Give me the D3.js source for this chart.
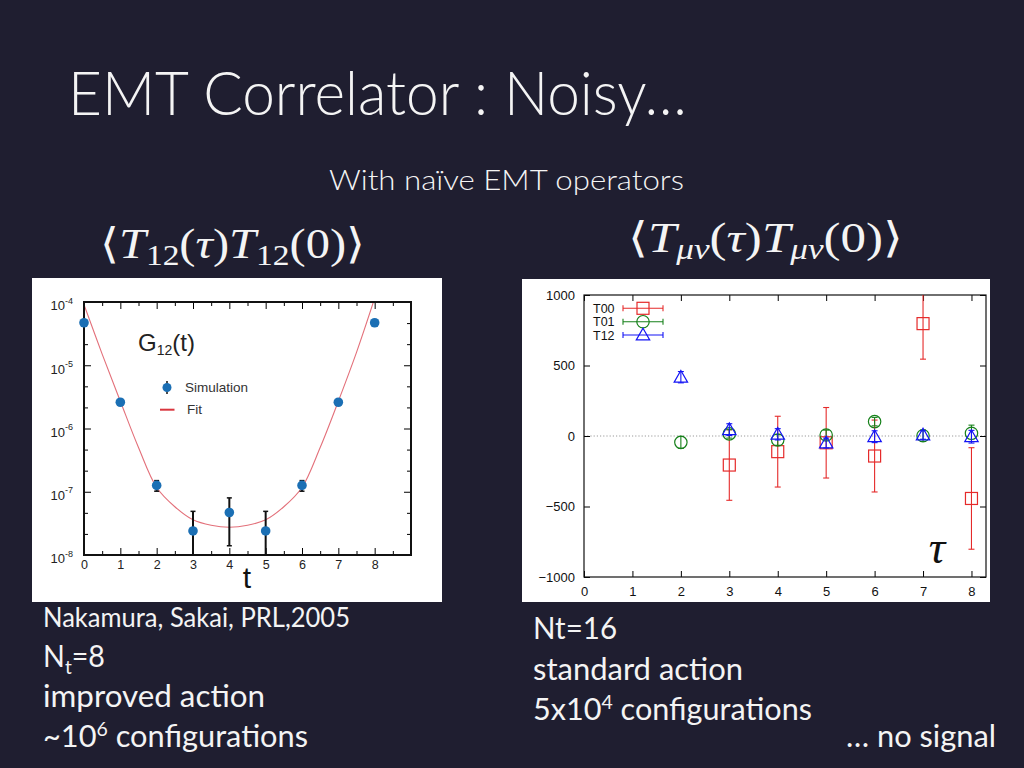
<!DOCTYPE html>
<html><head><meta charset="utf-8">
<script src="https://cdn.jsdelivr.net/npm/d3@7"></script>
<style>
body{margin:0;background:#1f1e30;}
svg{display:block}
</style></head><body>
<svg id="s" width="1024" height="768"></svg>
<script>
// ---------- data: left chart (Nakamura & Sakai G12(t)) ----------
const g12T   = [0, 1, 2, 3, 4, 5, 6, 7, 8];
const g12Val = [4.7e-5, 2.6e-6, 1.26e-7, 2.4e-8, 4.7e-8, 2.4e-8, 1.26e-7, 2.6e-6, 4.7e-5];
const g12Err = [0, 0, 2.4e-8, 2.5e-8, 3.3e-8, 2.5e-8, 2.4e-8, 0, 0];
const fitT   = [0, 0.5, 1, 1.5, 2, 2.5, 3, 3.5, 4, 4.5, 5, 5.5, 6, 6.5, 7, 7.5, 8];
const fitVal = [9.1e-5, 1.5e-5, 2.7e-6, 5.0e-7, 1.17e-7, 5.8e-8, 3.6e-8, 2.95e-8, 2.75e-8,
                2.95e-8, 3.6e-8, 5.8e-8, 1.17e-7, 5.0e-7, 2.7e-6, 1.6e-5, 1.15e-4];
const leftXTicks = [0, 1, 2, 3, 4, 5, 6, 7, 8];
const leftYExp   = [-8, -7, -6, -5, -4];

// ---------- data: right chart (T_mu nu correlators) ----------
const tauTicks   = [0, 1, 2, 3, 4, 5, 6, 7, 8];
const corrYTicks = [-1000, -500, 0, 500, 1000];
const t00Tau = [3, 4, 5, 6, 7, 8];
const t00Val = [-206, -111, -48, -142, 797, -443];
const t00Err = [250, 251, 250, 255, 252, 360];
const t01Tau = [2, 3, 4, 5, 6, 7, 8];
const t01Val = [-45, 15, -28, 7, 102, 2, 19];
const t01Err = [42, 30, 38, 35, 30, 40, 58];
const t12Tau = [2, 3, 4, 5, 6, 7, 8];
const t12Val = [417, 45, 12, -50, -5, 7, -5];
const t12Err = [40, 42, 40, 35, 42, 30, 45];
const seriesNames = ["T00", "T01", "T12"];

const svg = d3.select("#s");
svg.append("rect").attr("width", 1024).attr("height", 768).attr("fill", "#1f1e30");
const defs = svg.append("defs");

// ---------- slide text ----------
const white = "#f4f4f4";
const sans = "Lato, 'Open Sans', sans-serif";
svg.append("text").attr("x", 68).attr("y", 115).attr("fill", white)
  .attr("font-family", sans).attr("font-weight", 300).attr("font-size", 61)
  .attr("textLength", 619).attr("lengthAdjust", "spacingAndGlyphs")
  .text("EMT Correlator : Noisy…");
svg.append("text").attr("x", 329).attr("y", 190).attr("fill", white)
  .attr("font-family", sans).attr("font-weight", 300).attr("font-size", 27)
  .attr("textLength", 355).attr("lengthAdjust", "spacingAndGlyphs")
  .text("With naïve EMT operators");

function mathLabel(x, y, len, sub) {
  const t = svg.append("text").attr("x", x).attr("y", y).attr("fill", white)
    .attr("font-family", "'Liberation Serif', 'DejaVu Serif', serif").attr("font-size", 42)
    .attr("textLength", len).attr("lengthAdjust", "spacingAndGlyphs");
  t.append("tspan").attr("font-family", "'DejaVu Serif', serif").attr("font-weight", 200).text("⟨");
  t.append("tspan").attr("font-style", "italic").text("T");
  t.append("tspan").attr("font-size", 29).attr("dy", 7).attr("font-style", sub.italic ? "italic" : "normal").text(sub.s);
  t.append("tspan").attr("dy", -7).text("(");
  t.append("tspan").attr("font-style", "italic").text("τ");
  t.append("tspan").text(")");
  t.append("tspan").attr("font-style", "italic").text("T");
  t.append("tspan").attr("font-size", 29).attr("dy", 7).attr("font-style", sub.italic ? "italic" : "normal").text(sub.s);
  t.append("tspan").attr("dy", -7).text("(0)");
  t.append("tspan").attr("font-family", "'DejaVu Serif', serif").text("⟩");
}
mathLabel(100, 258, 265, {s: "12", italic: false});
mathLabel(628, 252, 275, {s: "μν", italic: true});

function para(x, y, size, len, parts, anchor) {
  const t = svg.append("text").attr("x", x).attr("y", y).attr("fill", white)
    .attr("font-family", sans).attr("font-size", size)
    .attr("textLength", len).attr("lengthAdjust", "spacingAndGlyphs");
  if (anchor) t.attr("text-anchor", anchor);
  parts.forEach(p => {
    const s = t.append("tspan").text(p.t);
    if (p.dy) s.attr("dy", p.dy);
    if (p.fs) s.attr("font-size", p.fs);
  });
}
para(43, 627, 26, 307, [{t: "Nakamura, Sakai, PRL,2005"}]);
para(43, 667, 30, 62, [{t: "N"}, {t: "t", dy: 7, fs: 20}, {t: "=8", dy: -7}]);
para(43, 707, 30, 222, [{t: "improved action"}]);
para(43, 747, 30, 265, [{t: "~10"}, {t: "6", dy: -11, fs: 19}, {t: " configurations", dy: 11}]);
para(533, 639, 30, 84, [{t: "Nt=16"}]);
para(533, 680, 30, 210, [{t: "standard action"}]);
para(533, 720, 30, 279, [{t: "5x10"}, {t: "4", dy: -11, fs: 19}, {t: " configurations", dy: 11}]);
para(996, 747, 30, 150, [{t: "… no signal"}], "end");

// ---------- left chart ----------
const axisFont = "'Liberation Sans', Arial, sans-serif";
const gL = svg.append("g");
gL.append("rect").attr("x", 32).attr("y", 278).attr("width", 410).attr("height", 324).attr("fill", "#fff");
const xL = d3.scaleLinear().domain([0, 9]).range([84, 411]);
const yL = d3.scaleLog().domain([1e-8, 1e-4]).range([555, 302]);
defs.append("clipPath").attr("id", "clipL").append("rect")
  .attr("x", 84).attr("y", 302).attr("width", 327).attr("height", 253);

gL.append("path").datum(d3.zip(fitT, fitVal))
  .attr("clip-path", "url(#clipL)")
  .attr("d", d3.line().x(d => xL(d[0])).y(d => yL(d[1])).curve(d3.curveCatmullRom))
  .attr("fill", "none").attr("stroke", "#e3707a").attr("stroke-width", 1.1);

function styleAxis(g, font, size, color) {
  g.select(".domain").remove();
  g.selectAll(".tick line").attr("stroke", "#000");
  g.selectAll(".tick text").attr("font-family", font).attr("font-size", size).attr("fill", color);
  g.attr("font-family", null).attr("font-size", null);
}
const halves = d3.range(0.5, 9, 1);
gL.append("g").attr("transform", "translate(0,555)")
  .call(d3.axisBottom(xL).tickValues(leftXTicks).tickSizeInner(-7).tickSizeOuter(0).tickPadding(5).tickFormat(d3.format("d")))
  .call(g => styleAxis(g, axisFont, 12.5, "#222"));
gL.append("g").attr("transform", "translate(0,555)")
  .call(d3.axisBottom(xL).tickValues(halves).tickSize(-4).tickFormat(""))
  .call(g => styleAxis(g, axisFont, 12, "#222"));
gL.append("g").attr("transform", "translate(0,302)")
  .call(d3.axisTop(xL).tickValues(leftXTicks).tickSize(-7).tickFormat(""))
  .call(g => styleAxis(g, axisFont, 12, "#222"));
gL.append("g").attr("transform", "translate(0,302)")
  .call(d3.axisTop(xL).tickValues(halves).tickSize(-4).tickFormat(""))
  .call(g => styleAxis(g, axisFont, 12, "#222"));
const yMaj = leftYExp.map(e => Math.pow(10, e));
const yMin = [];
leftYExp.slice(0, -1).forEach(e => { yMin.push(Math.pow(10, e + 1 / 3), Math.pow(10, e + 2 / 3)); });
gL.append("g").attr("transform", "translate(84,0)")
  .call(d3.axisLeft(yL).tickValues(yMaj).tickSize(-7).tickPadding(11).tickFormat(() => "10"))
  .call(g => styleAxis(g, axisFont, 13, "#222"))
  .call(g => g.selectAll(".tick text").attr("dy", "0.6em").each(function (d) {
    d3.select(this).append("tspan").attr("dy", "-0.75em").attr("font-size", 9)
      .text(String(Math.round(Math.log10(d))));
  }));
gL.append("g").attr("transform", "translate(84,0)")
  .call(d3.axisLeft(yL).tickValues(yMin).tickSize(-4).tickFormat(""))
  .call(g => styleAxis(g, axisFont, 12, "#222"));
gL.append("g").attr("transform", "translate(411,0)")
  .call(d3.axisRight(yL).tickValues(yMaj).tickSize(-7).tickFormat(""))
  .call(g => styleAxis(g, axisFont, 12, "#222"));
gL.append("g").attr("transform", "translate(411,0)")
  .call(d3.axisRight(yL).tickValues(yMin).tickSize(-4).tickFormat(""))
  .call(g => styleAxis(g, axisFont, 12, "#222"));
gL.append("rect").attr("x", 84).attr("y", 302).attr("width", 327).attr("height", 253)
  .attr("fill", "none").attr("stroke", "#111").attr("stroke-width", 2);

// error bars and points
const gPts = gL.append("g").attr("clip-path", "url(#clipL)");
g12T.forEach((t, i) => {
  const e = g12Err[i];
  if (e <= 0) return;
  const hi = g12Val[i] + e, loRaw = g12Val[i] - e;
  const clipped = loRaw < 1e-8;
  const lo = clipped ? 1e-8 : loRaw;
  const cx = xL(t);
  gPts.append("line").attr("x1", cx).attr("x2", cx).attr("y1", yL(hi)).attr("y2", yL(lo))
    .attr("stroke", "#111").attr("stroke-width", 2);
  gPts.append("line").attr("x1", cx - 2.5).attr("x2", cx + 2.5).attr("y1", yL(hi)).attr("y2", yL(hi))
    .attr("stroke", "#111").attr("stroke-width", 1.5);
  if (!clipped) gPts.append("line").attr("x1", cx - 2.5).attr("x2", cx + 2.5).attr("y1", yL(lo)).attr("y2", yL(lo))
    .attr("stroke", "#111").attr("stroke-width", 1.5);
});
gL.append("g").selectAll("circle").data(d3.zip(g12T, g12Val)).join("circle")
  .attr("cx", d => xL(d[0])).attr("cy", d => yL(d[1])).attr("r", 4.8).attr("fill", "#1b6fb4");

// labels
const gt = gL.append("text").attr("x", 138).attr("y", 351).attr("font-family", axisFont)
  .attr("font-size", 24).attr("fill", "#222");
gt.append("tspan").text("G");
gt.append("tspan").attr("font-size", 14).attr("dy", 4).text("12");
gt.append("tspan").attr("dy", -4).text("(t)");
gL.append("line").attr("x1", 167).attr("x2", 167).attr("y1", 381).attr("y2", 394).attr("stroke", "#111").attr("stroke-width", 1.5);
gL.append("circle").attr("cx", 167).attr("cy", 387.5).attr("r", 4.5).attr("fill", "#1b6fb4");
gL.append("text").attr("x", 185).attr("y", 392).attr("font-family", axisFont).attr("font-size", 13.5).attr("fill", "#333").text("Simulation");
gL.append("line").attr("x1", 160).attr("x2", 174.5).attr("y1", 409.7).attr("y2", 409.7).attr("stroke", "#d9363e").attr("stroke-width", 2);
gL.append("text").attr("x", 187).attr("y", 414).attr("font-family", axisFont).attr("font-size", 13.5).attr("fill", "#333").text("Fit");
gL.append("text").attr("x", 247).attr("y", 588).attr("text-anchor", "middle").attr("font-family", axisFont)
  .attr("font-size", 30).attr("fill", "#111").text("t");

// ---------- right chart ----------
const gR = svg.append("g");
gR.append("rect").attr("x", 522).attr("y", 279).attr("width", 468).attr("height", 323).attr("fill", "#fff");
const xR = d3.scaleLinear().domain([0, 8.3]).range([584, 986]);
const yR = d3.scaleLinear().domain([-1000, 1000]).range([577, 295]);
defs.append("clipPath").attr("id", "clipR").append("rect")
  .attr("x", 584).attr("y", 295).attr("width", 402).attr("height", 282);

gR.append("line").attr("x1", xR(0)).attr("x2", xR(8.3)).attr("y1", yR(0)).attr("y2", yR(0))
  .attr("stroke", "#9a9a9a").attr("stroke-width", 1).attr("stroke-dasharray", "1.2,2");

gR.append("g").attr("transform", "translate(0,577)")
  .call(d3.axisBottom(xR).tickValues(tauTicks).tickSizeInner(-6).tickSizeOuter(0).tickPadding(10).tickFormat(d3.format("d")))
  .call(g => styleAxis(g, axisFont, 13, "#111"));
gR.append("g").attr("transform", "translate(0,295)")
  .call(d3.axisTop(xR).tickValues(tauTicks).tickSize(-6).tickFormat(""))
  .call(g => styleAxis(g, axisFont, 13, "#111"));
gR.append("g").attr("transform", "translate(584,0)")
  .call(d3.axisLeft(yR).tickValues(corrYTicks).tickSizeInner(-6).tickSizeOuter(0).tickPadding(9).tickFormat(d3.format("d")))
  .call(g => styleAxis(g, axisFont, 13, "#111"));
gR.append("g").attr("transform", "translate(986,0)")
  .call(d3.axisRight(yR).tickValues(corrYTicks).tickSize(-6).tickFormat(""))
  .call(g => styleAxis(g, axisFont, 13, "#111"));
gR.append("rect").attr("x", 584).attr("y", 295).attr("width", 402).attr("height", 282)
  .attr("fill", "none").attr("stroke", "#111").attr("stroke-width", 1.2);

const colors = ["#e52a2a", "#16801a", "#1414f5"];
function marker(g, shape, cx, cy, color) {
  if (shape === "square") {
    g.append("rect").attr("x", cx - 6).attr("y", cy - 6).attr("width", 12).attr("height", 12)
      .attr("fill", "none").attr("stroke", color).attr("stroke-width", 1.2);
  } else if (shape === "circle") {
    g.append("circle").attr("cx", cx).attr("cy", cy).attr("r", 6.2)
      .attr("fill", "none").attr("stroke", color).attr("stroke-width", 1.2);
  } else {
    g.append("path").attr("d", d3.symbol(d3.symbolTriangle, 78)())
      .attr("transform", `translate(${cx},${cy + 1})`)
      .attr("fill", "none").attr("stroke", color).attr("stroke-width", 1.2);
  }
}
function drawSeries(tau, val, err, color, shape) {
  const g = gR.append("g").attr("clip-path", "url(#clipR)");
  tau.forEach((t, i) => {
    const cx = xR(t), y1 = yR(val[i] + err[i]), y0 = yR(val[i] - err[i]);
    g.append("line").attr("x1", cx).attr("x2", cx).attr("y1", y1).attr("y2", y0).attr("stroke", color).attr("stroke-width", 1.1);
    [y1, y0].forEach(yy => g.append("line").attr("x1", cx - 3).attr("x2", cx + 3).attr("y1", yy).attr("y2", yy)
      .attr("stroke", color).attr("stroke-width", 1.1));
    marker(g, shape, cx, yR(val[i]), color);
  });
}
drawSeries(t00Tau, t00Val, t00Err, colors[0], "square");
drawSeries(t01Tau, t01Val, t01Err, colors[1], "circle");
drawSeries(t12Tau, t12Val, t12Err, colors[2], "triangle");

// legend
const shapes = ["square", "circle", "triangle"];
const legY = [308.3, 321.7, 335];
seriesNames.forEach((n, i) => {
  const y = legY[i];
  gR.append("text").attr("x", 593).attr("y", y + 4.5).attr("font-family", axisFont).attr("font-size", 12.5)
    .attr("fill", "#111").text(n);
  gR.append("line").attr("x1", 623).attr("x2", 663).attr("y1", y).attr("y2", y).attr("stroke", colors[i]).attr("stroke-width", 1.1);
  [623, 663].forEach(xx => gR.append("line").attr("x1", xx).attr("x2", xx).attr("y1", y - 3).attr("y2", y + 3)
    .attr("stroke", colors[i]).attr("stroke-width", 1.1));
  marker(gR, shapes[i], 643, y, colors[i]);
});
gR.append("text").attr("x", 937).attr("y", 563).attr("text-anchor", "middle")
  .attr("font-family", "'Liberation Serif', serif").attr("font-style", "italic").attr("font-size", 46)
  .attr("fill", "#111").text("τ");
</script>
</body></html>
